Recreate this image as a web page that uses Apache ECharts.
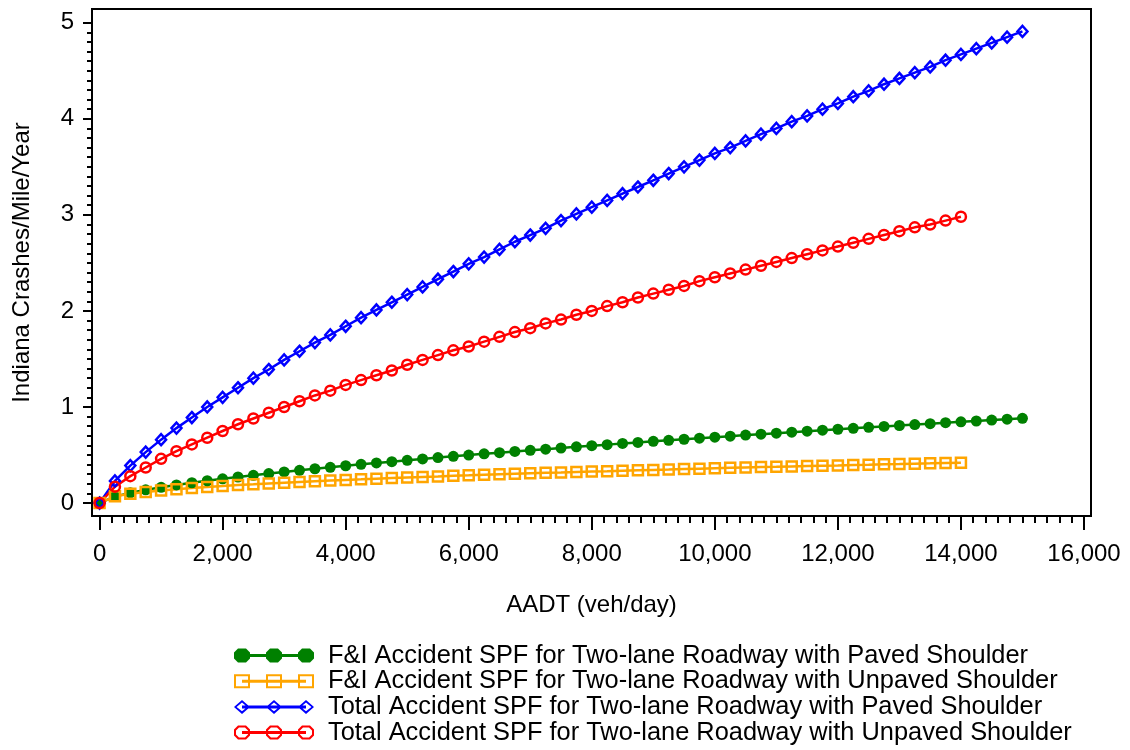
<!DOCTYPE html>
<html><head><meta charset="utf-8">
<script src="https://cdn.jsdelivr.net/npm/echarts@6/dist/echarts.min.js"></script>
<style>html,body{margin:0;padding:0;background:#fff}#c{width:1130px;height:750px}</style>
</head><body><div id="c"></div>
<script>
// ---- data ----
const aadt = [0,250,500,750,1000,1250,1500,1750,2000,2250,2500,2750,3000,3250,3500,3750,4000,4250,4500,4750,5000,5250,5500,5750,6000,6250,6500,6750,7000,7250,7500,7750,8000,8250,8500,8750,9000,9250,9500,9750,10000,10250,10500,10750,11000,11250,11500,11750,12000,12250,12500,12750,13000,13250,13500,13750,14000,14250,14500,14750,15000];
const fiPaved = [0,0.069,0.106,0.137,0.164,0.188,0.211,0.232,0.252,0.271,0.289,0.307,0.324,0.341,0.357,0.372,0.388,0.403,0.417,0.431,0.445,0.459,0.473,0.486,0.499,0.512,0.524,0.537,0.549,0.561,0.573,0.585,0.597,0.608,0.620,0.631,0.642,0.653,0.664,0.675,0.685,0.696,0.707,0.717,0.727,0.738,0.748,0.758,0.768,0.778,0.788,0.797,0.807,0.817,0.826,0.836,0.845,0.854,0.864,0.873,0.882];
const fiUnpaved = [0,0.070,0.096,0.115,0.130,0.144,0.156,0.167,0.177,0.187,0.195,0.204,0.212,0.220,0.227,0.234,0.241,0.247,0.254,0.260,0.266,0.272,0.277,0.283,0.288,0.294,0.299,0.304,0.309,0.314,0.318,0.323,0.328,0.332,0.337,0.341,0.345,0.349,0.354,0.358,0.362,0.366,0.370,0.374,0.377,0.381,0.385,0.389,0.392,0.396,0.399,0.403,0.406,0.410,0.413,0.417,0.420];
const totalPaved = [0,0.23,0.39,0.53,0.66,0.78,0.89,1.00,1.10,1.20,1.30,1.39,1.49,1.58,1.67,1.75,1.84,1.93,2.01,2.09,2.17,2.25,2.33,2.41,2.49,2.56,2.64,2.72,2.79,2.86,2.94,3.01,3.08,3.15,3.22,3.29,3.36,3.43,3.50,3.57,3.64,3.70,3.77,3.84,3.90,3.97,4.03,4.10,4.16,4.23,4.29,4.36,4.42,4.48,4.54,4.61,4.67,4.73,4.79,4.85,4.91];
const totalUnpaved = [0,0.17,0.28,0.37,0.46,0.54,0.61,0.68,0.75,0.82,0.88,0.94,1.00,1.06,1.12,1.17,1.23,1.28,1.33,1.38,1.44,1.49,1.54,1.59,1.63,1.68,1.73,1.78,1.82,1.87,1.91,1.96,2.00,2.05,2.09,2.14,2.18,2.22,2.26,2.31,2.35,2.39,2.43,2.47,2.51,2.55,2.59,2.63,2.67,2.71,2.75,2.79,2.83,2.87,2.90,2.94,2.98];
const seriesNames = [
  'F&I Accident SPF for Two-lane Roadway with Paved Shoulder',
  'F&I Accident SPF for Two-lane Roadway with Unpaved Shoulder',
  'Total Accident SPF for Two-lane Roadway with Paved Shoulder',
  'Total Accident SPF for Two-lane Roadway with Unpaved Shoulder'
];
const xTickValues = [0,2000,4000,6000,8000,10000,12000,14000,16000];
const yTickValues = [0,1,2,3,4,5];
const xMinorStep = 200;
const yMinorStep = 0.1;
const xTitle = 'AADT (veh/day)';
const yTitle = 'Indiana Crashes/Mile/Year';

// ---- build ----
const xMinor = []; for (let v = 0; v <= 16000; v += xMinorStep) xMinor.push(v);
const yMinor = []; for (let k = 0; k <= 50; k++) yMinor.push(+(k * yMinorStep).toFixed(1));
const pairs = arr => arr.map((v, i) => [aadt[i], v]);
const fmt = v => String(v).replace(/\B(?=(\d{3})+(?!\d))/g, ',');
const FONT = 'Liberation Sans, Arial, sans-serif';
const XMIN = -123, XMAX = 16114, YMIN = -0.135, YMAX = 5.143;

function octagon(cx, w, h) { // outer clockwise
  const a = w / 4, b = h * 4 / 14;
  return `M${cx-a},0 L${cx+a},0 L${cx+w/2},${b} L${cx+w/2},${h-b} L${cx+a},${h} L${cx-a},${h} L${cx-w/2},${h-b} L${cx-w/2},${b} Z `;
}
function octagonHole(cx) { // inner counter-clockwise
  return `M${cx-3},2 L${cx-6},5 L${cx-6},9 L${cx-3},12 L${cx+3},12 L${cx+6},9 L${cx+6},5 L${cx+3},2 Z `;
}
const centers = [8, 40, 72];
const lineRect = 'M8,5.5 L72,5.5 L72,8.5 L8,8.5 Z ';
const iconGreen = 'path://' + lineRect + centers.map(c => octagon(c, 16, 14)).join('');
const iconOrange = 'path://' + lineRect + centers.map(c => `M${c-8},0 L${c+8},0 L${c+8},14 L${c-8},14 Z M${c-6},2 L${c-6},12 L${c+6},12 L${c+6},2 Z `).join('');
const iconBlue = 'path://' + lineRect + centers.map(c => `M${c},0 L${c+8},7 L${c},14 L${c-8},7 Z M${c},2.6 L${c-5.4},7 L${c},11.4 L${c+5.4},7 Z `).join('');
const iconRed = 'path://' + lineRect + centers.map(c => octagon(c, 16, 14) + octagonHole(c)).join('');

const GREEN = '#008000', ORANGE = '#FFA500', BLUE = '#0000FF', RED = '#FF0000';

const chart = echarts.init(document.getElementById('c'), null, {renderer: 'canvas'});
chart.setOption({
  animation: false,
  backgroundColor: '#fff',
  grid: {left: 92, top: 9, right: 39, bottom: 234, show: true, borderColor: '#000', borderWidth: 2, backgroundColor: 'transparent', containLabel: false, outerBoundsMode: 'none'},
  xAxis: [{
    type: 'value', position: 'bottom', min: XMIN, max: XMAX,
    axisLine: {show: false, onZero: false}, splitLine: {show: false},
    axisTick: {show: true, inside: false, customValues: xTickValues, length: 14, lineStyle: {color: '#000', width: 2}},
    axisLabel: {customValues: xTickValues, margin: 26, fontSize: 24, color: '#000', fontFamily: FONT, formatter: fmt},
    name: xTitle, nameLocation: 'middle', nameGap: 77,
    nameTextStyle: {fontSize: 24, color: '#000', fontFamily: FONT}
  }, {
    type: 'value', position: 'bottom', min: XMIN, max: XMAX,
    axisLine: {show: false, onZero: false}, splitLine: {show: false},
    axisTick: {show: true, inside: false, customValues: xMinor, length: 7, lineStyle: {color: '#000', width: 2}},
    axisLabel: {show: false}
  }],
  yAxis: [{
    type: 'value', position: 'left', min: YMIN, max: YMAX,
    axisLine: {show: false, onZero: false}, splitLine: {show: false},
    axisTick: {show: true, inside: false, customValues: yTickValues, length: 9, lineStyle: {color: '#000', width: 2}},
    axisLabel: {customValues: yTickValues, margin: 18, fontSize: 24, color: '#000', fontFamily: FONT},
    name: yTitle, nameLocation: 'middle', nameGap: 58,
    nameTextStyle: {fontSize: 24, color: '#000', fontFamily: FONT}
  }, {
    type: 'value', position: 'left', min: YMIN, max: YMAX,
    axisLine: {show: false, onZero: false}, splitLine: {show: false},
    axisTick: {show: true, inside: false, customValues: yMinor, length: 5, lineStyle: {color: '#000', width: 2}},
    axisLabel: {show: false}
  }],
  legend: {
    orient: 'vertical', left: 234, top: 643, itemWidth: 80, itemHeight: 14, itemGap: 0.7,
    selectedMode: false, padding: 0,
    textStyle: {fontSize: 25.4, color: '#000', fontFamily: FONT, lineHeight: 25, padding: [0, 0, 0, 9]},
    data: [
      {name: seriesNames[0], icon: iconGreen, itemStyle: {color: GREEN, borderWidth: 0}},
      {name: seriesNames[1], icon: iconOrange, itemStyle: {color: ORANGE, borderWidth: 0}},
      {name: seriesNames[2], icon: iconBlue, itemStyle: {color: BLUE, borderWidth: 0}},
      {name: seriesNames[3], icon: iconRed, itemStyle: {color: RED, borderWidth: 0}}
    ]
  },
  series: [
    {name: seriesNames[0], type: 'line', data: pairs(fiPaved), showAllSymbol: true,
     symbol: 'circle', symbolSize: 11, itemStyle: {color: GREEN}, lineStyle: {color: GREEN, width: 2.5}},
    {name: seriesNames[1], type: 'line', data: pairs(fiUnpaved), showAllSymbol: true,
     symbol: 'rect', symbolSize: 10, itemStyle: {color: 'rgba(0,0,0,0)', borderColor: ORANGE, borderWidth: 2.5}, lineStyle: {color: ORANGE, width: 2.5}},
    {name: seriesNames[2], type: 'line', data: pairs(totalPaved), showAllSymbol: true,
     symbol: 'diamond', symbolSize: [10, 11], itemStyle: {color: 'rgba(0,0,0,0)', borderColor: BLUE, borderWidth: 2.5}, lineStyle: {color: BLUE, width: 2.5}},
    {name: seriesNames[3], type: 'line', data: pairs(totalUnpaved), showAllSymbol: true,
     symbol: 'circle', symbolSize: 10, itemStyle: {color: 'rgba(0,0,0,0)', borderColor: RED, borderWidth: 2.5}, lineStyle: {color: RED, width: 2.5}}
  ]
});
</script></body></html>
